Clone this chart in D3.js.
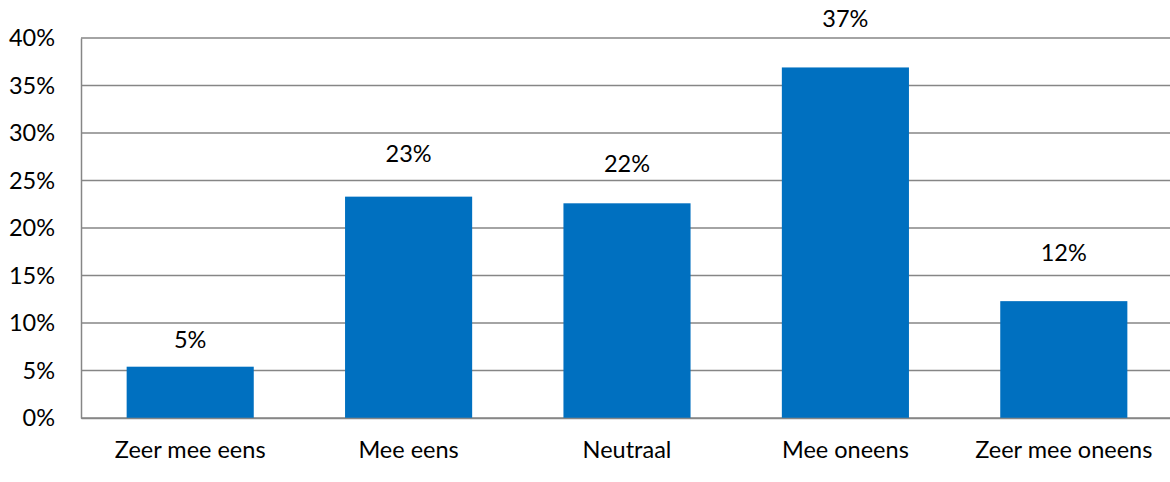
<!DOCTYPE html>
<html>
<head>
<meta charset="utf-8">
<script src="https://cdn.jsdelivr.net/npm/d3@7"></script>
<style>
  html, body { margin: 0; padding: 0; background: #fff; }
  svg text { font-family: Lato, "Open Sans", sans-serif; fill: #000; }
</style>
</head>
<body>
<div id="chart"></div>
<script>
// categories and values (percent)
const categories = ['Zeer mee eens', 'Mee eens', 'Neutraal', 'Mee oneens', 'Zeer mee oneens'];
const values = [5.4, 23.3, 22.6, 36.9, 12.3];
const valueLabels = ['5%', '23%', '22%', '37%', '12%'];
// label gap above bar, in percent units (labels were placed by hand)
const labelGap = [2.0, 3.6, 3.3, 4.3, 4.2];
const yTicks = [0, 5, 10, 15, 20, 25, 30, 35, 40];

const width = 1170, height = 482;
const margin = { top: 38, right: -3, bottom: 64, left: 81 };
const fontSize = '23.5px';

const svg = d3.select('#chart')
  .append('svg')
  .attr('width', width)
  .attr('height', height);

const x = d3.scaleBand()
  .domain(categories)
  .range([margin.left, width - margin.right])
  .paddingInner(0.418)
  .paddingOuter(0.209);

const y = d3.scaleLinear()
  .domain([0, 40])
  .range([height - margin.bottom, margin.top]);

// gridlines
svg.append('g')
  .selectAll('line')
  .data(yTicks)
  .join('line')
  .attr('x1', margin.left)
  .attr('x2', width)
  .attr('y1', d => y(d))
  .attr('y2', d => y(d))
  .attr('stroke', '#868686')
  .attr('stroke-width', 1.5);

// y axis
const yAxis = svg.append('g')
  .attr('transform', `translate(${margin.left},0)`)
  .call(d3.axisLeft(y).tickValues(yTicks).tickSize(0).tickPadding(26).tickFormat(d => d + '%'));
yAxis.select('.domain').attr('stroke', '#868686').attr('stroke-width', 1.5);
yAxis.selectAll('text').style('font-size', fontSize);

// bars
svg.append('g')
  .selectAll('rect')
  .data(values)
  .join('rect')
  .attr('x', (d, i) => x(categories[i]))
  .attr('width', x.bandwidth())
  .attr('y', d => y(d))
  .attr('height', d => y(0) - y(d))
  .attr('fill', '#0070C0');

// x axis
const xAxis = svg.append('g')
  .attr('transform', `translate(0,${y(0)})`)
  .call(d3.axisBottom(x).tickSize(0).tickPadding(23));
xAxis.select('.domain').attr('stroke', '#868686').attr('stroke-width', 1.5);
xAxis.selectAll('text').style('font-size', fontSize);

// value labels
svg.append('g')
  .selectAll('text')
  .data(values)
  .join('text')
  .attr('x', (d, i) => x(categories[i]) + x.bandwidth() / 2)
  .attr('y', (d, i) => y(d + labelGap[i]))
  .attr('text-anchor', 'middle')
  .style('font-size', fontSize)
  .text((d, i) => valueLabels[i]);
</script>
</body>
</html>
